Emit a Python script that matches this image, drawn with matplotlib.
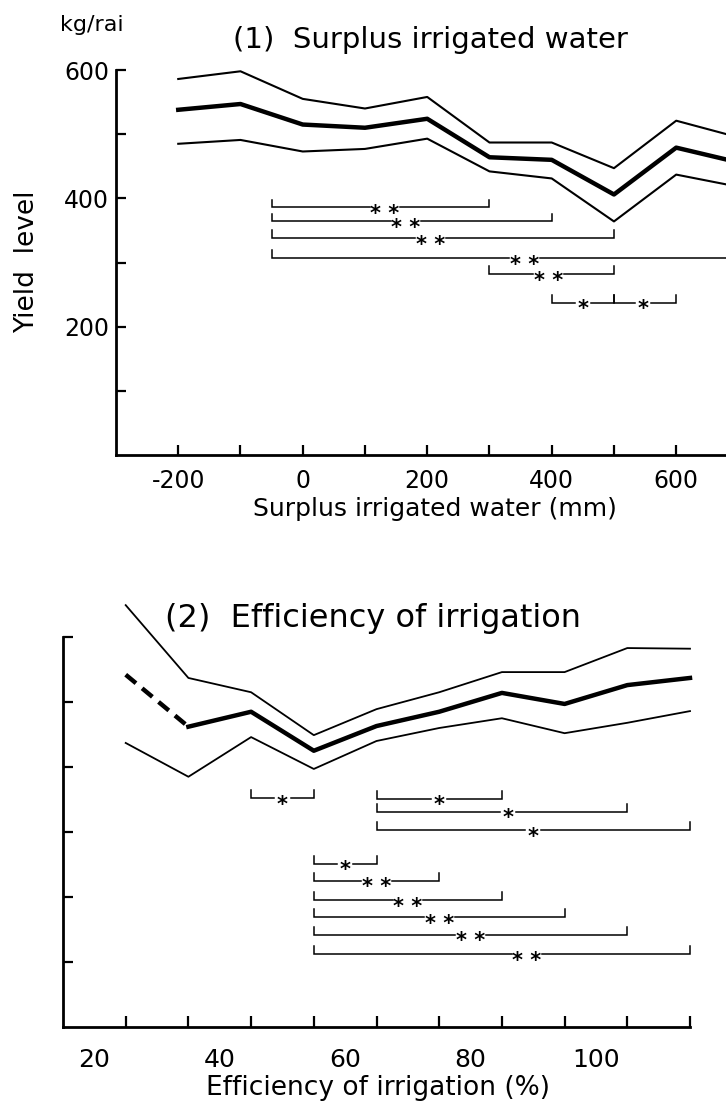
import matplotlib
matplotlib.use('Agg')
import matplotlib.pyplot as plt

plt.rcParams['font.family'] = ['DejaVu Sans']

# ---------------- Panel (1): Surplus irrigated water ----------------
surplus_x = [-200, -100, 0, 100, 200, 300, 400, 500, 600, 700]
surplus_upper = [586, 598, 555, 540, 558, 487, 487, 447, 521, 495]
surplus_mean = [538, 547, 515, 510, 524, 464, 460, 406, 479, 456]
surplus_lower = [485, 491, 473, 477, 493, 442, 431, 364, 437, 418]

surplus_br_start = [-50, -50, -50, -50, 300, 400, 500]
surplus_br_end = [300, 400, 500, 800, 500, 500, 600]
surplus_br_level = [386, 364, 338, 307, 282, 237, 237]
surplus_br_label = ['* *', '* *', '* *', '* *', '* *', '*', '*']
surplus_br_starx = [132, 166, 205, 356, 395, 450, 547]

surplus_xticks = [-200, 0, 200, 400, 600]
surplus_xticklabels = ['-200', '0', '200', '400', '600']
surplus_xminor = [-100, 100, 300, 500]
surplus_yticks = [200, 400, 600]
surplus_yminor = [100, 300, 500]

# ---------------- Panel (2): Efficiency of irrigation ----------------
eff_x = [25, 35, 45, 55, 65, 75, 85, 95, 105, 115]
eff_upper = [649, 537, 515, 449, 489, 515, 546, 546, 583, 582]
eff_mean = [542, 462, 485, 425, 463, 485, 514, 497, 526, 537]
eff_lower = [437, 385, 446, 397, 440, 460, 475, 452, 468, 486]

eff_br_start = [45, 65, 65, 65, 55, 55, 55, 55, 55, 55]
eff_br_end = [55, 85, 105, 115, 65, 75, 85, 95, 105, 115]
eff_br_level = [352, 351, 331, 303, 251, 225, 195, 169, 142, 112]
eff_br_label = ['*', '*', '*', '*', '*', '* *', '* *', '* *', '* *', '* *']
eff_br_starx = [50, 75, 86, 90, 60, 65, 70, 75, 80, 89]

eff_xlabels = [20, 40, 60, 80, 100]
eff_xticks = [25, 35, 45, 55, 65, 75, 85, 95, 105, 115]
eff_yticks = [100, 200, 300, 400, 500, 600]

W, H = 726, 1108
fig = plt.figure(figsize=(W / 100, H / 100), dpi=100)

FS_TICK = 17
FS_LAB = 18
STAR_FS = 15
THIN = 1.1
THICK = 3.2


def brackets(ax, starts, ends, levels, labels, starx, h, gap_px):
    inv = ax.transData.inverted()
    for s, e, y, lab, sx in zip(starts, ends, levels, labels, starx):
        dx = ax.transData.transform((sx, y))[0]
        half = gap_px * (1.7 if ' ' in lab else 0.9)
        g0 = inv.transform((dx - half, 0))[0]
        g1 = inv.transform((dx + half, 0))[0]
        ax.plot([s, s, g0], [y + h, y, y], color='k', lw=THIN, clip_on=False,
                solid_joinstyle='miter')
        ax.plot([g1, e, e], [y, y, y + h], color='k', lw=THIN, clip_on=False,
                solid_joinstyle='miter')
        ax.annotate(lab, xy=(sx, y), xytext=(0, -0.6 * STAR_FS),
                    textcoords='offset points', ha='center', va='baseline',
                    fontsize=STAR_FS, fontweight='bold')


# ---- top axes
ax1 = fig.add_axes([116 / W, 1 - 455 / H, 1 - 116 / W, (455 - 70) / H])
ax1.set_xlim(-300, 680)
ax1.set_ylim(0, 600)
for sp in ['top', 'right']:
    ax1.spines[sp].set_visible(False)
for sp in ['left', 'bottom']:
    ax1.spines[sp].set_linewidth(2.0)
ax1.plot(surplus_x, surplus_upper, color='k', lw=THIN + 0.4, clip_on=False)
ax1.plot(surplus_x, surplus_lower, color='k', lw=THIN + 0.4, clip_on=False)
ax1.plot(surplus_x, surplus_mean, color='k', lw=THICK, clip_on=False)
ax1.set_xticks(surplus_xticks)
ax1.set_xticklabels(surplus_xticklabels)
ax1.set_xticks(surplus_xminor, minor=True)
ax1.set_yticks(surplus_yticks)
ax1.set_yticks(surplus_yminor, minor=True)
ax1.tick_params(which='both', direction='in', length=7, width=1.6,
                labelsize=FS_TICK)
ax1.tick_params(axis='x', which='major', pad=10)
ax1.tick_params(axis='y', which='major', pad=5)
brackets(ax1, surplus_br_start, surplus_br_end, surplus_br_level,
         surplus_br_label, surplus_br_starx, 12, 9)
ax1.set_xlabel('Surplus irrigated water (mm)', fontsize=FS_LAB)
ax1.xaxis.set_label_coords((435 - 116) / (W - 116), -(497 - 455) / 385)
ax1.set_ylabel('Yield  level', fontsize=19)
ax1.yaxis.set_label_coords(-(116 - 40) / (W - 116), (455 - 262) / 385)

fig.text(92 / W, 1 - 25 / H, 'kg/rai', fontsize=16, ha='center', va='center')
fig.text(430 / W, 1 - 40 / H, '(1)  Surplus irrigated water', fontsize=21,
         ha='center', va='center')

# ---- bottom axes
ax2 = fig.add_axes([63 / W, 1 - 1027 / H, 627 / W, 455 / H])
ax2.set_xlim(15, 115)
ax2.set_ylim(0, 700)
for sp in ['top', 'right']:
    ax2.spines[sp].set_visible(False)
for sp in ['left', 'bottom']:
    ax2.spines[sp].set_linewidth(2.0)
ax2.spines['left'].set_bounds(0, 600)
ax2.plot(eff_x, eff_upper, color='k', lw=THIN + 0.2, clip_on=False)
ax2.plot(eff_x, eff_lower, color='k', lw=THIN + 0.2, clip_on=False)
ax2.plot(eff_x[:2], eff_mean[:2], color='k', lw=THICK, ls=(0, (3, 1.8)),
         clip_on=False)
ax2.plot(eff_x[1:], eff_mean[1:], color='k', lw=THICK, clip_on=False)
ax2.set_xticks(eff_xlabels)
ax2.set_xticklabels([str(v) for v in eff_xlabels])
ax2.set_xticks(eff_xticks, minor=True)
ax2.set_yticks(eff_yticks)
ax2.set_yticklabels([])
ax2.tick_params(which='major', axis='x', length=0, pad=15, labelsize=18)
ax2.tick_params(which='minor', axis='x', direction='in', length=8, width=1.6)
ax2.tick_params(axis='y', direction='in', length=7, width=1.6)
brackets(ax2, eff_br_start, eff_br_end, eff_br_level, eff_br_label,
         eff_br_starx, 12, 9)
ax2.set_xlabel('Efficiency of irrigation (%)', fontsize=FS_LAB + 1)
ax2.xaxis.set_label_coords((378 - 63) / 627, -(1075 - 1027) / 455)

fig.text(373 / W, 1 - 618 / H, '(2)  Efficiency of irrigation', fontsize=23,
         ha='center', va='center')

fig.savefig('out.png', dpi=100)
